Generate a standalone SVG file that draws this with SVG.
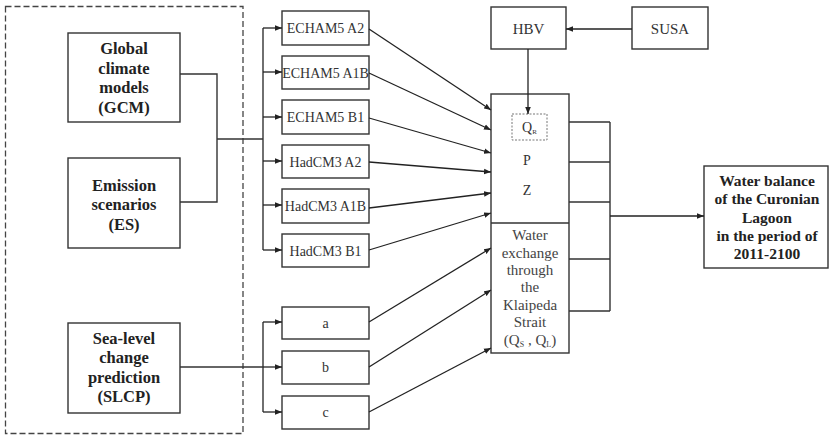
<svg xmlns="http://www.w3.org/2000/svg" width="830" height="435" viewBox="0 0 830 435">
<defs>
<marker id="ah" viewBox="0 0 10 10" refX="10" refY="5" markerWidth="7" markerHeight="7" markerUnits="userSpaceOnUse" orient="auto">
<path d="M0,1 L10,5 L0,9 Z" fill="#222"/>
</marker>
</defs>
<rect x="0" y="0" width="830" height="435" fill="#fff"/>
<rect id="frame" x="5.5" y="6.5" width="237.5" height="427" fill="none" stroke="#444" stroke-width="1.3" stroke-dasharray="6 3"/>

<g fill="#fff" stroke="#333" stroke-width="1.4">
<rect id="gcm-box" x="68" y="33" width="112" height="89"/>
<rect id="es-box" x="68" y="158" width="112" height="90"/>
<rect id="slcp-box" x="68" y="323" width="112" height="90"/>
<rect x="282" y="11" width="87" height="34"/>
<rect x="282" y="56" width="87" height="33"/>
<rect x="282" y="100" width="87" height="34"/>
<rect x="282" y="145" width="87" height="33"/>
<rect x="282" y="189" width="87" height="34"/>
<rect x="282" y="234" width="87" height="33"/>
<rect x="282" y="307" width="87" height="32"/>
<rect x="282" y="351" width="87" height="33"/>
<rect x="282" y="396" width="87" height="33"/>
<rect x="491" y="7" width="75" height="42"/>
<rect x="632" y="7" width="76" height="42"/>
<rect x="491" y="94" width="78" height="259"/>
<line x1="491" y1="223" x2="569" y2="223"/>
<rect x="704" y="166" width="124" height="102"/>
</g>
<rect x="512" y="114" width="35" height="26" fill="none" stroke="#777" stroke-width="1" stroke-dasharray="2 1.5"/>

<g id="gcm" font-family="Liberation Serif" font-weight="bold" font-size="16.5" fill="#222" text-anchor="middle">
<text x="124" y="54">Global</text><text x="124" y="73.5">climate</text><text x="124" y="93">models</text><text x="124" y="112.5">(GCM)</text></g>
<g id="es" font-family="Liberation Serif" font-weight="bold" font-size="16.5" fill="#222" text-anchor="middle">
<text x="124" y="190.5">Emission</text><text x="124" y="210">scenarios</text><text x="124" y="229.5">(ES)</text></g>
<g id="slcp" font-family="Liberation Serif" font-weight="bold" font-size="16.5" fill="#222" text-anchor="middle">
<text x="124" y="343.5">Sea-level</text><text x="124" y="363">change</text><text x="124" y="382.5">prediction</text><text x="124" y="402">(SLCP)</text></g>

<g font-family="Liberation Serif" font-size="14" fill="#333" text-anchor="middle">
<g id="echam5a2"><text x="325.5" y="33">ECHAM5 A2</text></g>
<g id="echam5a1b"><text x="325.5" y="77.5">ECHAM5 A1B</text></g>
<g id="echam5b1"><text x="325.5" y="122">ECHAM5 B1</text></g>
<g id="hadcm3a2"><text x="325.5" y="166.5">HadCM3 A2</text></g>
<g id="hadcm3a1b"><text x="325.5" y="211">HadCM3 A1B</text></g>
<g id="hadcm3b1"><text x="325.5" y="255.5">HadCM3 B1</text></g>
<g id="a"><text x="325.5" y="327.5">a</text></g>
<g id="b"><text x="325.5" y="372">b</text></g>
<g id="c"><text x="325.5" y="417">c</text></g>
<g id="hbv"><text x="528.5" y="34" font-size="15">HBV</text></g>
<g id="susa"><text x="670" y="34" font-size="15">SUSA</text></g>
<g id="central">
<text x="529.5" y="132">Q<tspan font-size="7" dy="2">R</tspan></text>
<text x="527" y="165">P</text>
<text x="527" y="195">Z</text>
<g font-size="15" fill="#444">
<text x="530" y="240">Water</text>
<text x="530" y="258">exchange</text>
<text x="530" y="275">through</text>
<text x="530" y="292">the</text>
<text x="530" y="310">Klaipeda</text>
<text x="530" y="327">Strait</text>
<text x="530" y="345">(Q<tspan font-size="8" dy="2">S</tspan><tspan dy="-2"> , Q</tspan><tspan font-size="8" dy="2">L</tspan><tspan dy="-2">)</tspan></text>
</g>
</g>
</g>

<g id="waterbalance" font-family="Liberation Serif" font-weight="bold" font-size="15.5" fill="#222" text-anchor="middle">
<text x="767" y="185.5">Water balance</text>
<text x="767" y="204">of the Curonian</text>
<text x="767" y="223">Lagoon</text>
<text x="767" y="241">in the period of</text>
<text x="767" y="259">2011-2100</text>
</g>

<g id="connectors" fill="none" stroke="#333" stroke-width="1.4">
<path d="M180,74 H217 V202 H180"/>
<path d="M217,139 H263"/>
<path d="M263,28 V250"/>
<path d="M180,367 H263"/>
<path d="M263,322 V412"/>
<path d="M569,122 H610 M569,162 H610 M569,202 H610 M569,259 H610 M569,311 H610 M610,122 V311"/>
<g stroke="#222" stroke-width="1.3" marker-end="url(#ah)">
<path d="M263,28 H282"/>
<path d="M263,72 H282"/>
<path d="M263,117 H282"/>
<path d="M263,161 H282"/>
<path d="M263,205 H282"/>
<path d="M263,250 H282"/>
<path d="M263,322 H282"/>
<path d="M263,367 H282"/>
<path d="M263,412 H282"/>
<path d="M369,29 L491,110"/>
<path d="M369,73 L491,130"/>
<path d="M369,118 L491,153"/>
<path d="M369,162 L491,172"/>
<path d="M369,208 L491,193"/>
<path d="M369,250 L491,213"/>
<path d="M369,322 L491,248"/>
<path d="M369,367 L491,290"/>
<path d="M369,412 L491,348"/>
<path d="M632,29 H566"/>
<path d="M528,49 V114"/>
<path d="M610,216 H704"/>
</g>
</g>
</svg>
